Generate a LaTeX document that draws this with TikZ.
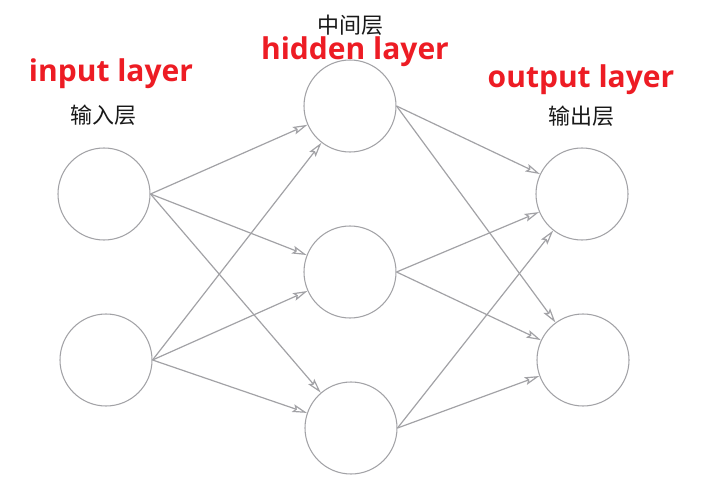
\documentclass[tikz,border=0pt]{standalone}
\usepackage{fontspec}
\setmainfont{Open Sans}
\newfontfamily\cjk{Noto Sans CJK SC}
\usetikzlibrary{arrows.meta}
\definecolor{nnred}{RGB}{237,28,36}
\definecolor{nngray}{RGB}{162,162,166}
\definecolor{nntext}{RGB}{25,25,25}

\begin{document}
\begin{tikzpicture}[x=0.75pt,y=-0.75pt,>={Stealth[open,length=11pt,width=6pt,inset=2pt]},
  neuron/.style={circle,draw=nngray,line width=0.8pt,minimum size=69pt,inner sep=0pt},
  link/.style={->,draw=nngray,line width=0.9pt},
  layername/.style={text=nnred,font=\bfseries\fontsize{22.5}{26}\selectfont,inner sep=0pt},
  cnname/.style={text=nntext,font=\cjk\fontsize{16.5}{19}\selectfont,inner sep=0pt}]
\useasboundingbox (0,0) rectangle (718,492);
\node[neuron] (in1) at (104,194) {};
\node[neuron] (in2) at (106,360) {};
\node[neuron] (hid1) at (350,106) {};
\node[neuron] (hid2) at (350,272) {};
\node[neuron] (hid3) at (351,428) {};
\node[neuron] (out1) at (582,194) {};
\node[neuron] (out2) at (583,360) {};
\node[layername] (in_name) at (111,74) {input layer};
\node[cnname] (in_cn) at (103,115) {输入层};
\node[cnname] (hid_cn) at (350,25) {中间层};
\node[layername] (hid_name) at (355,52) {hidden layer};
\node[layername] (out_name) at (581,80) {output layer};
\node[cnname] (out_cn) at (581,116) {输出层};
\draw[link] (in1.east) -- (hid1);
\draw[link] (in1.east) -- (hid2);
\draw[link] (in1.east) -- (hid3);
\draw[link] (in2.east) -- (hid1);
\draw[link] (in2.east) -- (hid2);
\draw[link] (in2.east) -- (hid3);
\draw[link] (hid1.east) -- (out1);
\draw[link] (hid1.east) -- (out2);
\draw[link] (hid2.east) -- (out1);
\draw[link] (hid2.east) -- (out2);
\draw[link] (hid3.east) -- (out1);
\draw[link] (hid3.east) -- (out2);
\end{tikzpicture}
\end{document}
